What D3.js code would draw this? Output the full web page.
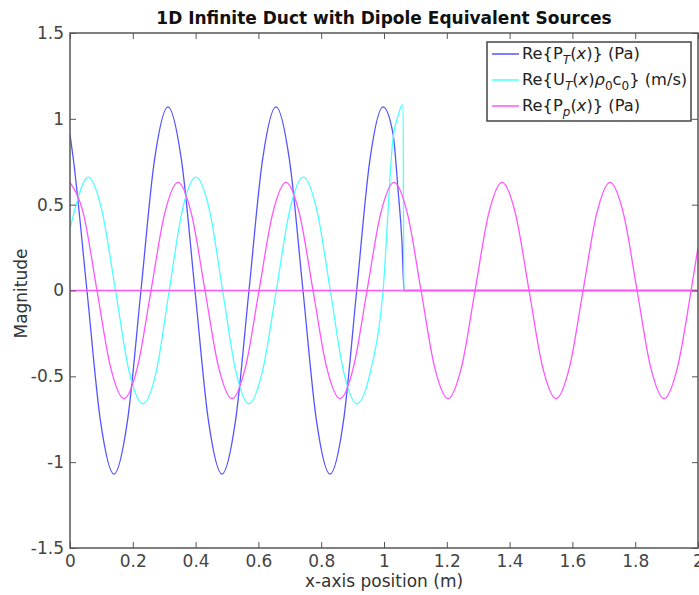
<!DOCTYPE html>
<html>
<head>
<meta charset="utf-8">
<script src="https://cdn.jsdelivr.net/npm/d3@7"></script>
<style>
  body { margin: 0; background: #fff; }
  svg text { font-family: "DejaVu Sans", sans-serif; }
</style>
</head>
<body>
<svg id="chart" width="699" height="595"></svg>
<script>
// values: [x (m), value]
const ptSeries = [
  [0.000, 0.91], [0.011, 0.76], [0.054, 0], [0.097, -0.76], [0.140, -1.07],
  [0.183, -0.76], [0.226, 0], [0.269, 0.76], [0.312, 1.07], [0.355, 0.76],
  [0.398, 0], [0.441, -0.76], [0.484, -1.07], [0.527, -0.76], [0.570, 0],
  [0.613, 0.76], [0.656, 1.07], [0.699, 0.76], [0.742, 0], [0.785, -0.76],
  [0.828, -1.07], [0.871, -0.76], [0.913, 0], [0.955, 0.76], [0.997, 1.07],
  [1.029, 0.91], [1.045, 0.58], [1.057, 0.29], [1.064, 0], [2.000, 0]
];

const utSeries = [
  [0.000, 0.36], [0.015, 0.47], [0.058, 0.66], [0.101, 0.47], [0.145, 0],
  [0.188, -0.47], [0.232, -0.66], [0.275, -0.47], [0.316, 0], [0.358, 0.47],
  [0.401, 0.66], [0.444, 0.47], [0.486, 0], [0.528, -0.47], [0.570, -0.66],
  [0.613, -0.47], [0.657, 0], [0.700, 0.47], [0.743, 0.66], [0.786, 0.47],
  [0.829, 0], [0.871, -0.47], [0.914, -0.66], [0.957, -0.47], [0.997, 0],
  [1.029, 0.89], [1.045, 1.02], [1.058, 1.08], [1.061, 1.08], [1.063, 0],
  [2.000, 0]
];

const ppSeries = [
  [0.000, 0.63], [0.043, 0.445], [0.086, 0], [0.129, -0.445], [0.172, -0.63],
  [0.215, -0.445], [0.258, 0], [0.301, 0.445], [0.344, 0.63], [0.387, 0.445],
  [0.430, 0], [0.473, -0.445], [0.516, -0.63], [0.559, -0.445], [0.602, 0],
  [0.645, 0.445], [0.688, 0.63], [0.731, 0.445], [0.774, 0], [0.817, -0.445],
  [0.860, -0.63], [0.903, -0.445], [0.946, 0], [0.989, 0.445], [1.032, 0.63],
  [1.075, 0.445], [1.118, 0], [1.161, -0.445], [1.204, -0.63], [1.247, -0.445],
  [1.290, 0], [1.333, 0.445], [1.376, 0.63], [1.419, 0.445], [1.462, 0],
  [1.505, -0.445], [1.548, -0.63], [1.591, -0.445], [1.634, 0], [1.677, 0.445],
  [1.720, 0.63], [1.763, 0.445], [1.806, 0], [1.849, -0.445], [1.892, -0.63],
  [1.935, -0.445], [1.978, 0], [2.000, 0.25]
];

const zeroLine = [[0, 0], [2, 0]];

const xTicks = [0, 0.2, 0.4, 0.6, 0.8, 1, 1.2, 1.4, 1.6, 1.8, 2];
const yTicks = [-1.5, -1, -0.5, 0, 0.5, 1, 1.5];

const series = [
  { key: "pt", data: ptSeries, color: "#5555ff" },
  { key: "ut", data: utSeries, color: "#4dffff" },
  { key: "pp", data: ppSeries, color: "#ff55ff" }
];

const svg = d3.select("#chart");
const margin = { left: 70, right: 1, top: 33, bottom: 47 };
const width = 699, height = 595;
const plotW = width - margin.left - margin.right;
const plotH = height - margin.top - margin.bottom;

const x = d3.scaleLinear().domain([0, 2]).range([margin.left, margin.left + plotW]);
const y = d3.scaleLinear().domain([-1.5, 1.5]).range([margin.top + plotH, margin.top]);

svg.append("defs").append("clipPath").attr("id", "clip")
  .append("rect")
  .attr("x", margin.left).attr("y", margin.top)
  .attr("width", plotW).attr("height", plotH);

const line = d3.line()
  .x(d => x(d[0]))
  .y(d => y(d[1]))
  .curve(d3.curveMonotoneX);

const lines = svg.append("g").attr("clip-path", "url(#clip)");

series.forEach(s => {
  lines.append("path")
    .datum(s.data)
    .attr("fill", "none")
    .attr("stroke", s.color)
    .attr("stroke-width", 1.3)
    .attr("d", line);
});

lines.append("path")
  .datum(zeroLine)
  .attr("fill", "none")
  .attr("stroke", "#ff55ff")
  .attr("stroke-width", 1.3)
  .attr("d", d3.line().x(d => x(d[0])).y(d => y(d[1])));

// axes: ticks inward on all four sides, plain hyphen for negatives
const axisColor = "#555";
const tickLen = 6;
const plain = d => String(d);

const axisBottomG = svg.append("g").attr("transform", `translate(0,${margin.top + plotH})`)
  .call(d3.axisBottom(x).tickValues(xTicks).tickSize(-tickLen).tickPadding(7).tickFormat(plain));
const axisTopG = svg.append("g").attr("transform", `translate(0,${margin.top})`)
  .call(d3.axisTop(x).tickValues(xTicks).tickSize(-tickLen).tickFormat(""));
const axisLeftG = svg.append("g").attr("transform", `translate(${margin.left},0)`)
  .call(d3.axisLeft(y).tickValues(yTicks).tickSize(-tickLen).tickPadding(6).tickFormat(plain));
const axisRightG = svg.append("g").attr("transform", `translate(${margin.left + plotW},0)`)
  .call(d3.axisRight(y).tickValues(yTicks).tickSize(-tickLen).tickFormat(""));

[axisBottomG, axisTopG, axisLeftG, axisRightG].forEach(g => {
  g.select(".domain").remove();
  g.selectAll(".tick line").attr("stroke", axisColor).attr("stroke-width", 1);
  g.selectAll(".tick text").attr("fill", "#444").style("font-size", "17px");
});

svg.append("rect")
  .attr("x", margin.left).attr("y", margin.top)
  .attr("width", plotW).attr("height", plotH)
  .attr("fill", "none")
  .attr("stroke", axisColor)
  .attr("stroke-width", 1.5);

svg.append("text")
  .attr("x", margin.left + plotW / 2).attr("y", 24)
  .attr("text-anchor", "middle")
  .style("font-size", "17px").style("font-weight", "bold")
  .attr("fill", "#111")
  .text("1D Infinite Duct with Dipole Equivalent Sources");

svg.append("text")
  .attr("x", margin.left + plotW / 2).attr("y", 587)
  .attr("text-anchor", "middle")
  .style("font-size", "17px")
  .attr("fill", "#333")
  .text("x-axis position (m)");

svg.append("text")
  .attr("transform", `translate(27,${margin.top + plotH / 2 + 3}) rotate(-90)`)
  .attr("text-anchor", "middle")
  .style("font-size", "17px")
  .attr("fill", "#333")
  .text("Magnitude");

// legend
const legend = svg.append("g").attr("transform", "translate(487,42)");
legend.append("rect")
  .attr("width", 204).attr("height", 79)
  .attr("fill", "#fff")
  .attr("stroke", "#444")
  .attr("stroke-width", 1.5);

const legendRows = [
  { color: "#5555ff", parts: [["Re{P"], ["T", "sub"], ["("], ["x", "it"], [")} (Pa)"]] },
  { color: "#4dffff", parts: [["Re{U"], ["T", "sub"], ["("], ["x", "it"], [")"], ["ρ", "it"], ["0", "sub0"], ["c"], ["0", "sub0"], ["} (m/s)"]] },
  { color: "#ff55ff", parts: [["Re{P"], ["p", "sub"], ["("], ["x", "it"], [")} (Pa)"]] }
];

legendRows.forEach((row, i) => {
  const cy = 12 + i * 26;
  legend.append("line")
    .attr("x1", 5).attr("x2", 32)
    .attr("y1", cy).attr("y2", cy)
    .attr("stroke", row.color).attr("stroke-width", 1.5);
  const t = legend.append("text")
    .attr("x", 35).attr("y", cy + 5)
    .style("font-size", "16.3px")
    .attr("fill", "#222");
  let lowered = false;
  row.parts.forEach(([str, kind]) => {
    const span = t.append("tspan").text(str);
    const isSub = kind === "sub" || kind === "sub0";
    if (isSub && !lowered) span.attr("dy", 5);
    if (!isSub && lowered) span.attr("dy", -5);
    lowered = isSub;
    if (isSub) span.style("font-size", "12px");
    if (kind === "sub" || kind === "it") span.style("font-style", "italic");
  });
});
</script>
</body>
</html>
